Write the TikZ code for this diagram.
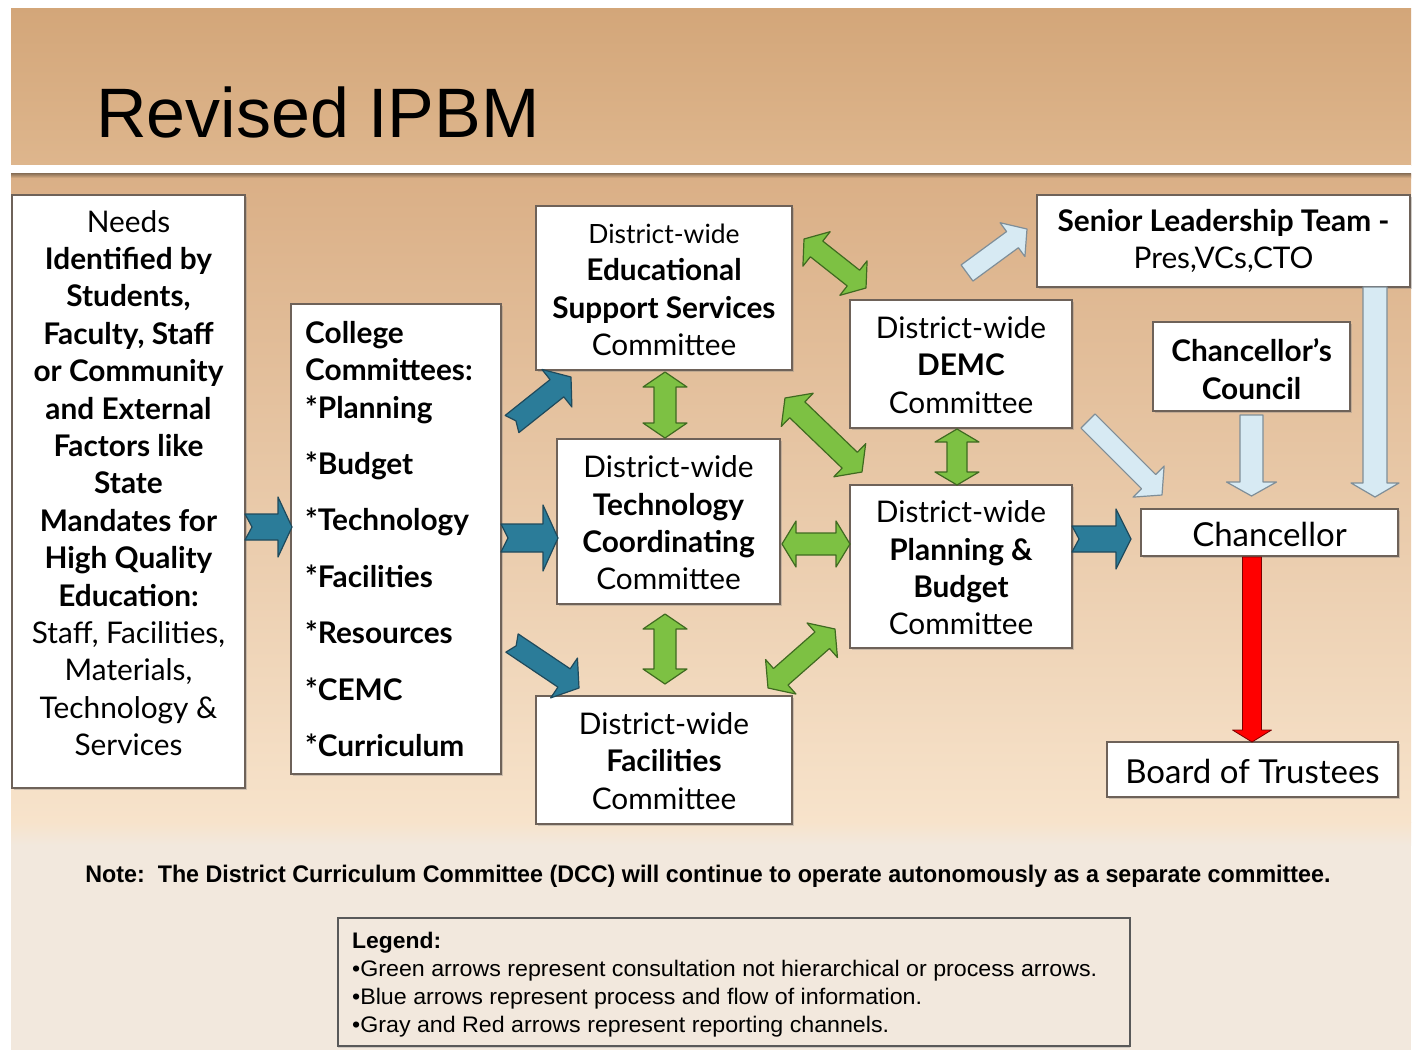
\documentclass[tikz,border=0pt]{standalone}
\usepackage{fontspec}
\usepackage{graphicx}
\setmainfont{Lato}
\newfontfamily\arialf{Liberation Sans}
\newfontfamily\narrowf[FakeStretch=0.8]{Liberation Sans}
\usetikzlibrary{calc,shadows}
\definecolor{titleTop}{HTML}{D3A679}
\definecolor{titleBot}{HTML}{DEB68D}
\definecolor{mainTop}{HTML}{DAAF86}
\definecolor{mainBot}{HTML}{F7E3CB}
\definecolor{bottomBg}{HTML}{F2E8DD}
\definecolor{boxline}{HTML}{6E6259}
\definecolor{blueF}{HTML}{2B7C99}
\definecolor{blueD}{HTML}{1F4A5C}
\definecolor{greenF}{HTML}{7DC143}
\definecolor{greenD}{HTML}{3F6A20}
\definecolor{lbF}{HTML}{D7EAF3}
\definecolor{lbD}{HTML}{7F8E98}
\definecolor{redF}{HTML}{FF0000}
\definecolor{redD}{HTML}{7A0000}
% single-headed block arrow: style, from, to, shaft half width, head half width, head length, tail notch
\newcommand\sarrow[7]{%
 \filldraw[#1] ($(#2)!#4!90:(#3)$) -- ($(#3)!#6!(#2)!#4!-90:(#2)$) -- ($(#3)!#6!(#2)!#5!-90:(#2)$) -- (#3) -- ($(#3)!#6!(#2)!#5!90:(#2)$) -- ($(#3)!#6!(#2)!#4!90:(#2)$) -- ($(#2)!#4!-90:(#3)$) -- ($(#2)!#7!(#3)$) -- cycle;}
% double-headed block arrow: style, a, b, shaft half width, head half width, head length
\newcommand\darrow[6]{%
 \filldraw[#1] (#2) -- ($(#2)!#6!(#3)!#5!90:(#3)$) -- ($(#2)!#6!(#3)!#4!90:(#3)$) -- ($(#3)!#6!(#2)!#4!-90:(#2)$) -- ($(#3)!#6!(#2)!#5!-90:(#2)$) -- (#3) -- ($(#3)!#6!(#2)!#5!90:(#2)$) -- ($(#3)!#6!(#2)!#4!90:(#2)$) -- ($(#2)!#6!(#3)!#4!-90:(#3)$) -- ($(#2)!#6!(#3)!#5!-90:(#3)$) -- cycle;}
\tikzset{
 box/.style={draw=boxline, line width=1.6pt, fill=white, inner sep=0pt,
   drop shadow={shadow xshift=1.5pt, shadow yshift=-2pt, opacity=0.35}},
 txt/.style={inner sep=0pt, align=center, font=\fontsize{29.8}{37.4}\selectfont},
 bluearrow/.style={fill=blueF, draw=blueD, line width=1.2pt, line join=round},
 greenarrow/.style={fill=greenF, draw=greenD, line width=1.2pt, line join=round},
 lbarrow/.style={fill=lbF, draw=lbD, line width=1.2pt, line join=round},
 redarrow/.style={fill=redF, draw=redD, line width=0.8pt, line join=round},
 legtxt/.style={inner sep=0pt, anchor=base west, font=\narrowf\fontsize{22.5}{24}\selectfont}
}
\begin{document}
\begin{tikzpicture}[x=1pt,y=-1pt]
\useasboundingbox (0,0) rectangle (1415,1053);
\fill[white] (0,0) rectangle (1415,1053);
% backgrounds
\shade[top color=titleTop, bottom color=titleBot] (11,8) rectangle (1411,165);
\fill[white] (11,165) rectangle (1411,172);
\fill[bottomBg] (11,820) rectangle (1411,1050);
\shade[top color=mainTop, bottom color=mainBot] (11,174) rectangle (1411,822);
\shade[top color=mainBot, bottom color=bottomBg] (11,822) rectangle (1411,845);
\shade[top color=black!40!titleBot, bottom color=mainTop] (11,173) rectangle (1411,178);
% title
\node[inner sep=0pt, anchor=base west, font=\arialf\fontsize{70}{80}\selectfont] (title) at (96,137) {Revised IPBM};
% boxes
\node[box, minimum width=233pt, minimum height=593pt] (needs) at (128.5,491.5) {};
\node[box, minimum width=210pt, minimum height=470pt] (college) at (396,539) {};
\node[box, minimum width=256pt, minimum height=164pt] (ed) at (664,288) {};
\node[box, minimum width=223pt, minimum height=165pt] (tech) at (668.5,521.5) {};
\node[box, minimum width=256pt, minimum height=128pt] (fac) at (664,760) {};
\node[box, minimum width=222pt, minimum height=128pt] (demc) at (961,364) {};
\node[box, minimum width=222pt, minimum height=163pt] (pb) at (961,566.5) {};
\node[box, minimum width=373pt, minimum height=92pt] (senior) at (1223.5,241) {};
\node[box, minimum width=197pt, minimum height=89pt] (council) at (1251.5,366.5) {};
\node[box, minimum width=257pt, minimum height=47pt] (chanc) at (1269.5,532.5) {};
\node[box, minimum width=291pt, minimum height=55pt] (board) at (1252.5,769.5) {};
% texts
\node[txt] (needsT) at (needs.center |- 0,483) {Needs\\ \textbf{Identified by}\\ \textbf{Students,}\\ \textbf{Faculty, Staff}\\ \textbf{or Community}\\ \textbf{and External}\\ \textbf{Factors like}\\ \textbf{State}\\ \textbf{Mandates for}\\ \textbf{High Quality}\\ \textbf{Education:}\\ Staff, Facilities,\\ Materials,\\ Technology \&\\ Services};
\node[txt, align=left, anchor=west, font=\bfseries\fontsize{29.8}{37.4}\selectfont] (collegeT) at (305,539) {College\\ Committees:\\ *Planning\\[19pt] *Budget\\[19pt] *Technology\\[19pt] *Facilities\\[19pt] *Resources\\[19pt] *CEMC\\[19pt] *Curriculum};
\node[txt] (edT) at (ed.center |- 0,290) {{\fontsize{26.5}{37.4}\selectfont District-wide}\\ \textbf{Educational}\\ \textbf{Support Services}\\ Committee};
\node[txt] (techT) at (tech.center |- 0,523) {District-wide\\ \textbf{Technology}\\ \textbf{Coordinating}\\ Committee};
\node[txt] (facT) at (fac.center |- 0,761) {District-wide\\ \textbf{Facilities}\\ Committee};
\node[txt] (demcT) at (demc.center |- 0,365) {District-wide\\ \textbf{DEMC}\\ Committee};
\node[txt] (pbT) at (pb.center |- 0,568) {District-wide\\ \textbf{Planning \&}\\ \textbf{Budget}\\ Committee};
\node[txt] (seniorT) at (senior.center |- 0,241) {\textbf{Senior Leadership Team -}\\ Pres,VCs,CTO};
\node[txt] (councilT) at (council.center |- 0,369) {\textbf{Chancellor’s}\\ \textbf{Council}};
\node[txt, font=\fontsize{33}{37}\selectfont] (chancT) at (chanc.center |- 0,534) {Chancellor};
\node[txt, font=\fontsize{33}{37}\selectfont] (boardT) at (board.center |- 0,771) {Board of Trustees};
% arrow end points
\coordinate (b1s) at (245,527); \coordinate (b1e) at (292,527);
\coordinate (b2s) at (501,538); \coordinate (b2e) at (558,538);
\coordinate (b3s) at (512,424); \coordinate (b3e) at (571,377);
\coordinate (b4s) at (512,643); \coordinate (b4e) at (579,688);
\coordinate (b5s) at (1072,539); \coordinate (b5e) at (1131,539);
\coordinate (g1a) at (665,372); \coordinate (g1b) at (665,438);
\coordinate (g2a) at (665,614); \coordinate (g2b) at (665,684);
\coordinate (g3a) at (804,239); \coordinate (g3b) at (866,288);
\coordinate (g4a) at (785,398); \coordinate (g4b) at (862,472);
\coordinate (g5a) at (782,544); \coordinate (g5b) at (850,544);
\coordinate (g6a) at (768,688); \coordinate (g6b) at (835,629);
\coordinate (g7a) at (957,429); \coordinate (g7b) at (957,485);
\coordinate (l1s) at (967,273); \coordinate (l1e) at (1027,229);
\coordinate (l2s) at (1088,421); \coordinate (l2e) at (1162,495);
\coordinate (l3s) at (council.south |- 0,415); \coordinate (l3e) at (council.south |- 0,496);
\coordinate (l4s) at (1375,287); \coordinate (l4e) at (1375,497);
\coordinate (r1s) at (1252,557); \coordinate (r1e) at (1252,742);
% blue arrows
\sarrow{bluearrow}{b1s}{b1e}{13pt}{30pt}{14pt}{7pt}
\sarrow{bluearrow}{b2s}{b2e}{14pt}{33pt}{15pt}{7pt}
\sarrow{bluearrow}{b3s}{b3e}{11pt}{24pt}{18pt}{5pt}
\sarrow{bluearrow}{b4s}{b4e}{11pt}{24pt}{18pt}{5pt}
\sarrow{bluearrow}{b5s}{b5e}{13pt}{30pt}{15pt}{7pt}
% green arrows
\darrow{greenarrow}{g1a}{g1b}{11pt}{22pt}{15pt}
\darrow{greenarrow}{g2a}{g2b}{11pt}{22pt}{15pt}
\darrow{greenarrow}{g3a}{g3b}{10pt}{22pt}{16pt}
\darrow{greenarrow}{g4a}{g4b}{11pt}{23pt}{17pt}
\darrow{greenarrow}{g5a}{g5b}{11pt}{23pt}{14pt}
\darrow{greenarrow}{g6a}{g6b}{11pt}{23pt}{17pt}
\darrow{greenarrow}{g7a}{g7b}{10pt}{22pt}{13pt}
% gray-blue arrows
\sarrow{lbarrow}{l1s}{l1e}{10pt}{21pt}{18pt}{0pt}
\sarrow{lbarrow}{l2s}{l2e}{10pt}{22pt}{19pt}{0pt}
\sarrow{lbarrow}{l3s}{l3e}{11.5pt}{25pt}{14pt}{0pt}
\sarrow{lbarrow}{l4s}{l4e}{12pt}{24pt}{14pt}{0pt}
% red arrow
\sarrow{redarrow}{r1s}{r1e}{9.5pt}{19.5pt}{12pt}{0pt}
% note
\node[inner sep=0pt, anchor=base, font=\narrowf\bfseries\fontsize{24}{26}\selectfont] (note) at (708,882) {\resizebox{1245pt}{\height}{Note:\ \ The District Curriculum Committee (DCC) will continue to operate autonomously as a separate committee.}};
% legend
\node[draw=black!65, line width=1.6pt, minimum width=792pt, minimum height=128pt, inner sep=0pt,
  drop shadow={shadow xshift=0pt, shadow yshift=-2pt, opacity=0.3}, fill=bottomBg] (legend) at (734,982) {};
\node[legtxt, font=\narrowf\bfseries\fontsize{22.5}{24}\selectfont] (leg0) at (352,948) {\resizebox{89pt}{\height}{Legend:}};
\node[legtxt] (leg1) at (352,976) {\resizebox{745pt}{\height}{•Green arrows represent consultation not hierarchical or process arrows.}};
\node[legtxt] (leg2) at (352,1004) {\resizebox{570pt}{\height}{•Blue arrows represent process and flow of information.}};
\node[legtxt] (leg3) at (352,1032) {\resizebox{537pt}{\height}{•Gray and Red arrows represent reporting channels.}};
\end{tikzpicture}
\end{document}
